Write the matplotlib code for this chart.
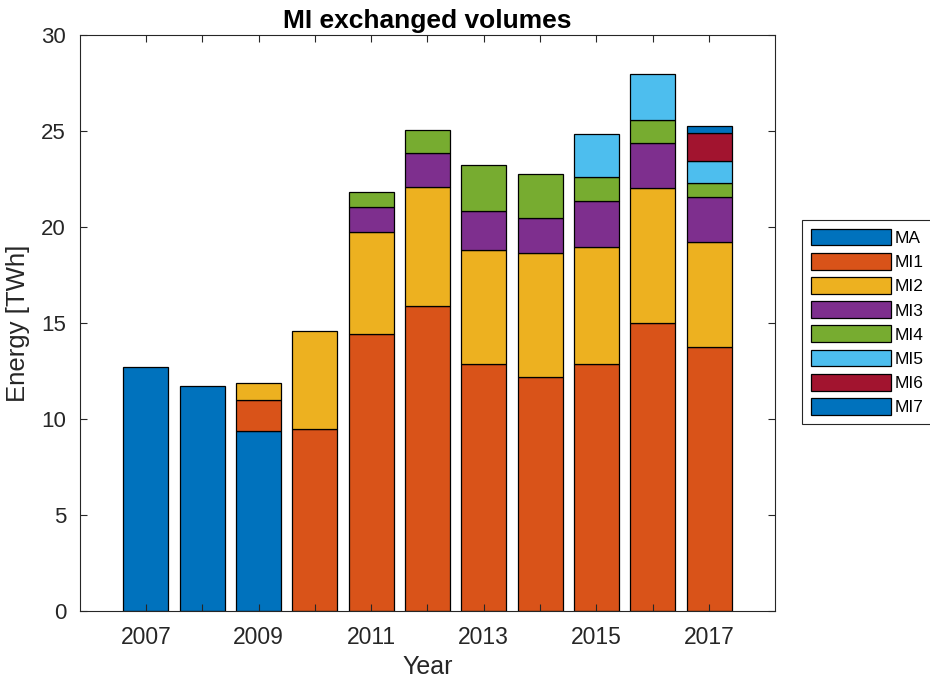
import numpy as np
import matplotlib
matplotlib.use('Agg')
import matplotlib.pyplot as plt

plt.rcParams['font.family'] = ['Liberation Sans', 'DejaVu Sans']

years = [2007, 2008, 2009, 2010, 2011, 2012, 2013, 2014, 2015, 2016, 2017]
series = ['MA', 'MI1', 'MI2', 'MI3', 'MI4', 'MI5', 'MI6', 'MI7']

# yearly exchanged energy per session, TWh
ma  = [12.7, 11.7, 9.4, 0, 0, 0, 0, 0, 0, 0, 0]
mi1 = [0, 0, 1.6, 9.46, 14.42, 15.9, 12.89, 12.17, 12.85, 15.02, 13.76]
mi2 = [0, 0, 0.87, 5.1, 5.3, 6.21, 5.91, 6.46, 6.09, 6.99, 5.44]
mi3 = [0, 0, 0, 0, 1.3, 1.73, 2.06, 1.85, 2.41, 2.35, 2.37]
mi4 = [0, 0, 0, 0, 0.83, 1.22, 2.39, 2.27, 1.26, 1.2, 0.7]
mi5 = [0, 0, 0, 0, 0, 0, 0, 0, 2.25, 2.41, 1.18]
mi6 = [0, 0, 0, 0, 0, 0, 0, 0, 0, 0, 1.45]
mi7 = [0, 0, 0, 0, 0, 0, 0, 0, 0, 0, 0.36]

colors = ['#0072BD', '#D95319', '#EDB120', '#7E2F8E',
          '#77AC30', '#4DBEEE', '#A2142F', '#0072BD']
axcol = '#262626'

fig = plt.figure(figsize=(9.3, 6.83), dpi=100)
ax = fig.add_axes([0.086, 0.1054, 0.7473, 0.8433])

x = np.array(years)
bottom = np.zeros(len(years))
for name, vals, c in zip(series, [ma, mi1, mi2, mi3, mi4, mi5, mi6, mi7], colors):
    vals = np.array(vals, dtype=float)
    nz = vals > 0  # skip empty segments so no stray outlines
    ax.bar(x[nz], vals[nz], width=0.8, bottom=bottom[nz], color=c,
           edgecolor='black', linewidth=0.9, label=name)
    bottom += vals

ax.set_xlim(2005.83, 2018.17)
ax.set_ylim(0, 30)
ax.set_xticks(years)
ax.set_xticklabels([str(y) if y % 2 else '' for y in years])
ax.set_yticks(range(0, 31, 5))
ax.tick_params(direction='in', top=True, right=True, length=5, width=0.8,
               colors=axcol)
ax.tick_params(axis='x', labelsize=16.5, pad=11)
ax.tick_params(axis='y', labelsize=16, pad=10)
for s in ax.spines.values():
    s.set_color(axcol)
    s.set_linewidth(0.8)

ax.set_xlabel('Year', fontsize=18, color=axcol, labelpad=4)
ax.set_ylabel('Energy [TWh]', fontsize=18.5, color=axcol, labelpad=8)
ax.set_title('MI exchanged volumes', fontsize=19, fontweight='bold', pad=5)

leg = ax.legend(loc='center left', bbox_to_anchor=(802 / 930, 361 / 683),
                bbox_transform=fig.transFigure, fontsize=12.5,
                handlelength=4.6, handleheight=1.1, labelspacing=0.4,
                handletextpad=0.25, borderpad=0.5, borderaxespad=0,
                fancybox=False, framealpha=1)
leg.get_frame().set_edgecolor(axcol)
leg.get_frame().set_linewidth(0.8)

fig.savefig('out.png', dpi=100)
